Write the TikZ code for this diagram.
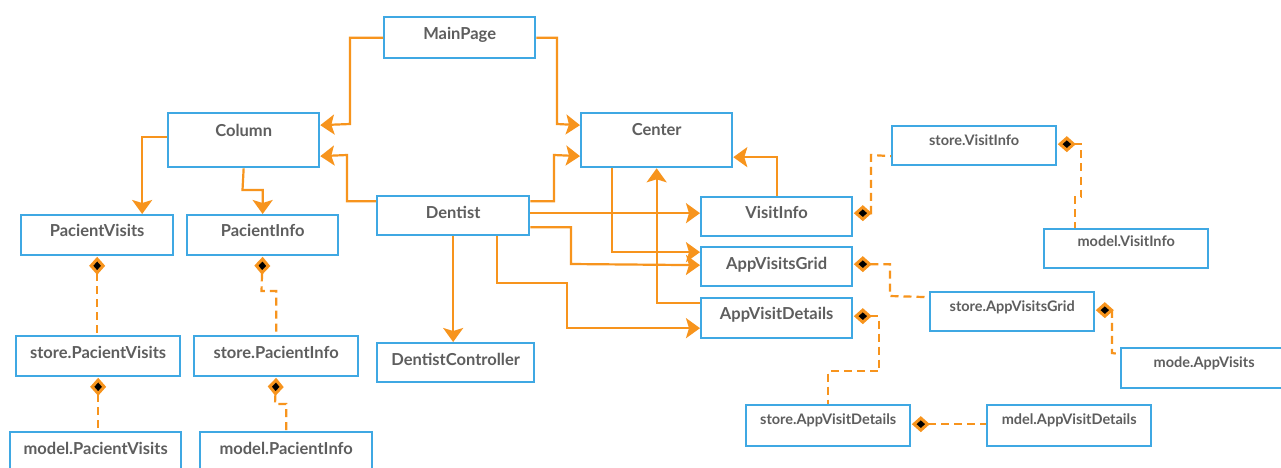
\documentclass[tikz,border=0pt]{standalone}
\usepackage{fontspec}
\setmainfont{Lato}
\usetikzlibrary{arrows.meta}
\definecolor{ublue}{HTML}{3FA8E3}
\definecolor{uorange}{HTML}{F7941D}
\definecolor{utext}{HTML}{5E5E5E}
\tikzset{
  box/.style={draw=ublue, line width=2.3pt, fill=white, inner xsep=0pt, inner ysep=0pt, text=utext, anchor=north west},
  bigtext/.style={font=\fontsize{16.5}{18}\selectfont\bfseries},
  smalltext/.style={font=\fontsize{14.5}{16}\selectfont\bfseries},
  conn/.style={draw=uorange, line width=2.2pt, -{Stealth[length=14pt,width=20pt,inset=3pt]}},
  comp/.style={draw=uorange, line width=2.2pt, dash pattern=on 8pt off 5pt, {Diamond[length=18pt,width=16pt,fill=black,line width=3pt]}-, shorten <=0.5pt}
}
\newcommand\UmlBox[8]{%
  \pgfmathsetmacro\uw{#5-#3}%
  \pgfmathsetmacro\ud{#6-#4-#7}%
  \node[box,#1,minimum width=\uw pt,text height=#7pt,text depth=\ud pt] (#2) at (#3,#4) {#8};}
\begin{document}
\begin{tikzpicture}[x=1pt,y=-1pt]
\useasboundingbox (0,0) rectangle (1281,467);
\clip (0,0) rectangle (1281,467);
\fill[white] (0,0) rectangle (1281,467);
% boxes
\UmlBox{bigtext}{MainPage}{383}{16}{534}{57}{22}{MainPage}
\UmlBox{bigtext}{Column}{167}{112}{318}{166}{23}{Column}
\UmlBox{bigtext}{Center}{580}{112}{731}{166}{22}{Center}
\UmlBox{bigtext}{PacientVisits}{20}{214}{172}{254}{21.5}{PacientVisits}
\UmlBox{bigtext}{PacientInfo}{186}{214}{337}{254}{21.5}{PacientInfo}
\UmlBox{bigtext}{Dentist}{376}{195}{528}{234}{22}{Dentist}
\UmlBox{bigtext}{VisitInfo}{700}{196}{851}{235}{21}{VisitInfo}
\UmlBox{bigtext}{avg}{700}{246}{851}{285}{22}{AppVisitsGrid}
\UmlBox{bigtext}{avd}{700}{297}{851}{337}{21}{AppVisitDetails}
\UmlBox{bigtext}{dc}{376}{342}{533}{381}{22}{DentistController}
\UmlBox{bigtext}{spv}{15}{335}{179}{375}{22}{store.PacientVisits}
\UmlBox{bigtext}{spi}{193}{335}{357}{375}{22}{store.PacientInfo}
\UmlBox{bigtext}{mpv}{9}{431}{180}{472}{22}{model.PacientVisits}
\UmlBox{bigtext}{mpi}{199}{431}{371}{472}{22}{model.PacientInfo}
\UmlBox{smalltext}{svi}{891}{125}{1055}{164}{19}{store.VisitInfo}
\UmlBox{smalltext}{mvi}{1043}{228}{1207}{267}{17.5}{model.VisitInfo}
\UmlBox{smalltext}{savg}{929}{291}{1093}{330}{19}{store.AppVisitsGrid}
\UmlBox{smalltext}{mav}{1120}{347}{1286}{387}{19}{mode.AppVisits}
\UmlBox{smalltext}{savd}{745}{404}{909}{445}{19}{store.AppVisitDetails}
\UmlBox{smalltext}{mavd}{986}{404}{1150}{445}{19}{mdel.AppVisitDetails}
% solid connectors
\draw[conn] (MainPage.west) -| (350,124) -- ([yshift=15pt]Column.east);
\draw[conn] (MainPage.east) -| (557,124) -- ([yshift=15pt]Center.west);
\draw[conn] ([yshift=14.5pt]Dentist.west) -| (347,155) -- ([yshift=-16pt]Column.east);
\draw[conn] ([yshift=14.5pt]Dentist.east) -| (554,155) -- ([yshift=-16pt]Center.west);
\draw[conn] ([yshift=3pt]Column.west) -| ([xshift=45pt]PacientVisits.north);
\draw[conn] (Column.south) -- (242.5,190) -| (PacientInfo.north);
\draw[conn] ([yshift=2.5pt]Dentist.east) -- ([yshift=2.5pt]Dentist.east -| VisitInfo.west);
\draw[conn] ([yshift=-11.5pt]Dentist.east) -| (571,264) -- ([yshift=1.5pt]avg.west);
\draw[conn] ([xshift=-44.5pt]Center.south) |- ([yshift=14.5pt]avg.west);
\draw[conn] ([yshift=15pt]avd.west) -| (Center.south);
\draw[conn] ([xshift=44pt]Dentist.south) |- (567,283) |- ([yshift=-10pt]avd.west);
\draw[conn] (Dentist.south) -- (Dentist.south |- dc.north);
\draw[conn] (VisitInfo.north) |- ([yshift=-17pt]Center.east);
% composition connectors
\draw[comp] ([yshift=3.5pt]VisitInfo.east) -| (871,155) -- ([yshift=-10.5pt]svi.west);
\draw[comp] ([yshift=1.5pt]svi.east) -| (1081,197) -| ([xshift=-51.5pt]mvi.north);
\draw[comp] ([yshift=2.5pt]avg.east) -| (890,296) -- ([yshift=14.5pt]savg.west);
\draw[comp] ([yshift=1.5pt]savg.east) -| (1112,353) -- ([yshift=14pt]mav.west);
\draw[comp] ([yshift=2pt]avd.east) -| (879,371) -| (savd.north);
\draw[comp] ([yshift=1.5pt]savd.east) -- ([yshift=1.5pt]savd.east -| mavd.west);
\draw[comp] (PacientVisits.south) -- (PacientVisits.south |- spv.north);
\draw[comp] (PacientInfo.south) -- (261.5,291) -| (spi.north);
\draw[comp] (spv.south) -- (spv.south |- mpv.north);
\draw[comp] (spi.south) -- (275,404) -| (mpi.north);
\end{tikzpicture}
\end{document}
